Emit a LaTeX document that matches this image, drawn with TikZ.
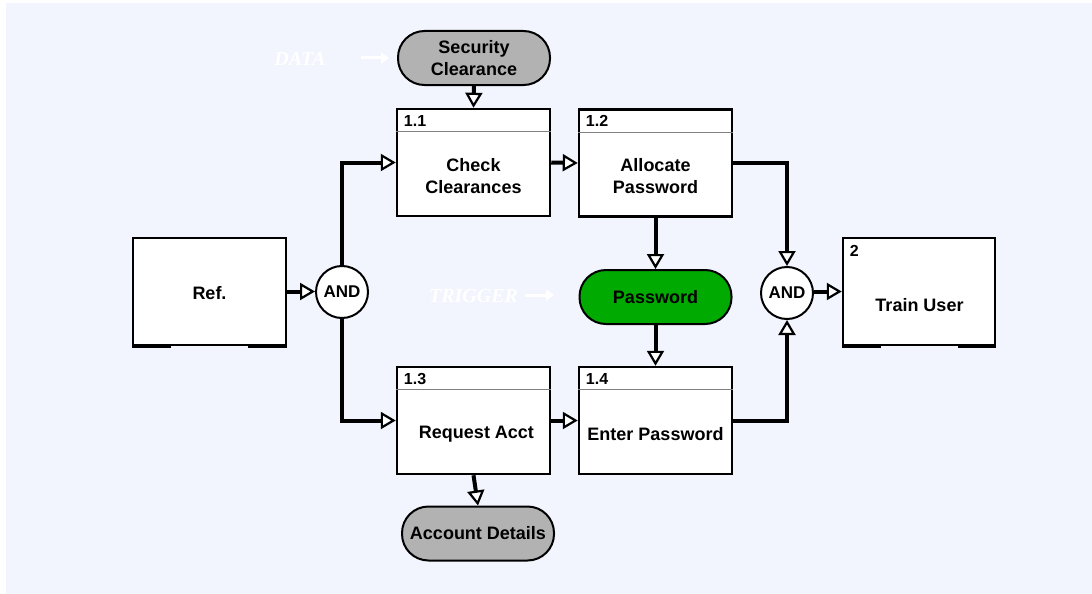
\documentclass[tikz,border=0pt]{standalone}
\usepackage{fontspec}
\setmainfont{Liberation Sans}
\newfontfamily\lblfont{Liberation Serif}
\usetikzlibrary{arrows.meta}
\definecolor{bgc}{RGB}{242,245,254}
\definecolor{pillgray}{RGB}{178,178,178}
\definecolor{pwgreen}{RGB}{0,170,0}
\definecolor{hdrgray}{RGB}{128,128,128}
\begin{document}
\begin{tikzpicture}[x=1pt,y=-1pt,
  proc/.style={draw, line width=2.5pt, fill=white, minimum width=153pt, minimum height=107pt, inner sep=0pt},
  pill/.style={draw, line width=2pt, rounded corners=26.5pt, minimum width=152pt, minimum height=54pt, inner sep=0pt, align=center, font=\fontsize{18}{22}\selectfont\bfseries},
  andc/.style={circle, draw, line width=2pt, fill=white, minimum size=52pt, inner sep=0pt, font=\fontsize{17}{20}\selectfont\bfseries},
  txt/.style={align=center, inner sep=0pt, font=\fontsize{18}{22}\selectfont\bfseries},
  num/.style={anchor=west, inner sep=0pt, font=\fontsize{16}{18}\selectfont\bfseries},
  hdr/.style={draw=hdrgray, line width=1pt},
  conn/.style={line width=4pt, -{Triangle[length=15pt,width=17pt,fill=white,line width=2.2pt]}},
  refmark/.style={line width=3.5pt},
  ghost/.style={text=white, inner sep=0pt, font=\lblfont\fontsize{20}{22}\selectfont\bfseries\itshape},
  ghostarrow/.style={draw=white, line width=3pt, -{Triangle[length=8pt,width=11pt]}}
]
\useasboundingbox (0,0) rectangle (1092,594);
\fill[bgc] (6,3) rectangle (1092,594);

% process boxes
\node[proc] (b11) at (473.5,162.5) {};
\node[proc] (b12) at (655.5,163) {};
\node[proc] (b13) at (473.5,420.5) {};
\node[proc] (b14) at (655.5,420.5) {};
\node[proc] (ref) at (209.5,291.5) {};
\node[proc, minimum width=152pt] (train) at (919,291.5) {};

% header lines
\foreach \b in {b11,b12,b13,b14}{
  \draw[hdr] ([yshift=-24pt]\b.north west) -- ([yshift=-24pt]\b.north east);
}

% reference marks on bottom edges
\draw[refmark] ([yshift=-0.2pt]ref.south west) -- ++(39,0);
\draw[refmark] ([yshift=-0.2pt]ref.south east) -- ++(-39,0);
\draw[refmark] ([yshift=-0.2pt]train.south west) -- ++(39,0);
\draw[refmark] ([yshift=-0.2pt]train.south east) -- ++(-38,0);

% numbers
\node[num] (n11) at ([xshift=8pt,yshift=-13pt]b11.north west) {1.1};
\node[num] (n12) at ([xshift=8pt,yshift=-13pt]b12.north west) {1.2};
\node[num] (n13) at ([xshift=8pt,yshift=-13pt]b13.north west) {1.3};
\node[num] (n14) at ([xshift=8pt,yshift=-13pt]b14.north west) {1.4};
\node[num] (n2) at ([xshift=8pt,yshift=-14pt]train.north west) {2};

% box texts
\node[txt] (t11) at (473.5,176) {Check\\Clearances};
\node[txt] (t12) at (655.5,176) {Allocate\\Password};
\node[txt] (t13) at (476.5,434) {Request Acct};
\node[txt] (t14) at (655.5,434) {Enter Password};
\node[txt] (tref) at (209.5,293) {Ref.};
\node[txt] (ttrain) at (919.5,305) {Train User};

% pills
\node[pill, fill=pillgray] (sec) at (474,58) {Security\\Clearance};
\node[pill, fill=pwgreen] (pwd) at (655.5,297) {Password};
\node[pill, fill=pillgray] (acct) at (478,533.5) {Account Details};

% AND junctions
\node[andc] (and1) at (342,292) {AND};
\node[andc] (and2) at (787,293) {AND};

% connectors
\draw[conn] (sec.south) -- (b11.north);
\draw[conn] (ref.east) -- (ref.east -| and1.west);
\draw[conn] (and1.north) |- (b11.west);
\draw[conn] (and1.south) |- (b13.west);
\draw[conn] (b11.east) -- (b12.west);
\draw[conn] (b12.east) -| (and2.north);
\draw[conn] (b12.south) -- (pwd.north);
\draw[conn] (pwd.south) -- (b14.north);
\draw[conn] (b13.east) -- (b14.west);
\draw[conn] (b14.east) -| (and2.south);
\draw[conn] (and2.east |- train.west) -- (train.west);
\draw[conn] (b13.south) -- (acct.north);

% ghost labels
\node[ghost] (data) at (300,59) {DATA};
\coordinate (da1) at (361,58);
\coordinate (da2) at (389,58);
\draw[ghostarrow] (da1) -- (da2);
\node[ghost] (trig) at (473.5,296) {TRIGGER};
\coordinate (ta1) at (525,295);
\coordinate (ta2) at (554,295);
\draw[ghostarrow] (ta1) -- (ta2);
\end{tikzpicture}
\end{document}
